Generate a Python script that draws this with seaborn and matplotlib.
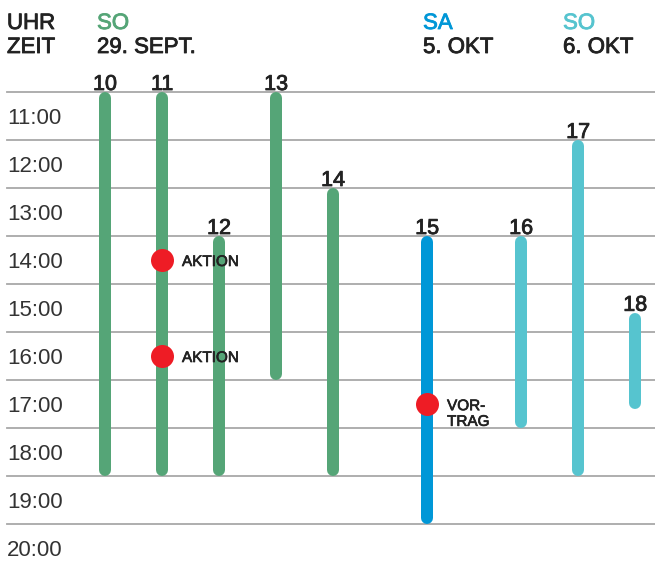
import seaborn as sns
import matplotlib.pyplot as plt
import matplotlib.patheffects as pe
import pandas as pd
import numpy as np

event_ids = [10, 11, 12, 13, 14, 15, 16, 17, 18]
event_days = ["SO 29.9."] * 5 + ["SA 5.10."] + ["SO 6.10."] * 3
start_hours = [10.5, 10.5, 13.5, 10.5, 12.5, 13.5, 13.5, 11.5, 15.1]
end_hours = [18.5, 18.5, 18.5, 16.5, 18.5, 19.5, 17.5, 18.5, 17.1]

# red markers: (event, hour, label)
marker_events = [11, 11, 15]
marker_hours = [14.0, 16.0, 17.0]
marker_labels = ["AKTION", "AKTION", "VOR-\nTRAG"]

hour_labels = ["11:00", "12:00", "13:00", "14:00", "15:00",
               "16:00", "17:00", "18:00", "19:00", "20:00"]
hour_values = [11, 12, 13, 14, 15, 16, 17, 18, 19, 20]

day_keys = ["SO 29.9.", "SA 5.10.", "SO 6.10."]
day_names = ["SO", "SA", "SO"]
day_dates = ["29. SEPT.", "5. OKT", "6. OKT"]
day_colors = ["#55A577", "#0097D7", "#56C4CF"]

# --- Layout ---
W, H = 655, 563
PX = 0.72                 # px -> pt at dpi 100
px_per_hour = 48
px_per_slot = 57
day_gap = 1.65
bar_px = 12
header_x_px = [97, 423, 563]

# x positions: one slot per event, wider gap between days
pos = []
x = 0.0
for i, d in enumerate(event_days):
    if i > 0:
        x += day_gap if d != event_days[i - 1] else 1.0
    pos.append(x)
pos_of = dict(zip(event_ids, pos))

# trim by cap radius so rounded ends stay inside the event time
cap = (bar_px / 2) / px_per_hour
rows = []
for e, d, p, s, t in zip(event_ids, event_days, pos, start_hours, end_hours):
    rows.append({"event": e, "day": d, "x": p, "hour": s + cap})
    rows.append({"event": e, "day": d, "x": p, "hour": t - cap})
bars = pd.DataFrame(rows)

marks = pd.DataFrame({
    "x": [pos_of[e] for e in marker_events],
    "hour": marker_hours,
    "label": marker_labels,
})

plt.rcParams["font.family"] = ["Liberation Sans", "DejaVu Sans"]

# slightly heavier strokes, like a medium-weight face
def medium(c, w=0.6):
    return [pe.withStroke(linewidth=w, foreground=c)]

fig = plt.figure(figsize=(W / 100, H / 100), dpi=100)
ax = fig.add_axes([0, 0, 1, 1])

# grid lines at half hours
for h in hour_values:
    ax.axhline(h - 0.5, xmin=7 / W, xmax=1, color="#a8a8a8", lw=1.3, zorder=0)

sns.lineplot(
    data=bars, x="x", y="hour", hue="day", units="event",
    estimator=None, sort=False, palette=dict(zip(day_keys, day_colors)),
    linewidth=bar_px * PX, solid_capstyle="round", legend=False, ax=ax, zorder=2,
)

sns.scatterplot(
    data=marks, x="x", y="hour", color="#EE1C25", s=(23 * PX) ** 2,
    linewidth=0, ax=ax, zorder=4,
)

for _, r in marks.iterrows():
    dy = -2 if "\n" not in r["label"] else -10
    ax.annotate(r["label"], (r["x"], r["hour"]), xytext=(20 * PX, dy * PX),
                textcoords="offset points", ha="left", va="center",
                fontsize=11, color="#222222", linespacing=1.15,
                path_effects=medium("#222222", 0.5))

# event numbers above bars
for e, p, s in zip(event_ids, pos, start_hours):
    ax.annotate(str(e), (p, s), xytext=(0, 2 * PX), textcoords="offset points",
                ha="center", va="baseline", fontsize=15.5, color="#222222",
                path_effects=medium("#222222"))

# hour labels
for h, lab in zip(hour_values, hour_labels):
    ax.annotate(lab, (7 / W, h), xycoords=("axes fraction", "data"),
                xytext=(0, -8 * PX), textcoords="offset points",
                ha="left", va="baseline", fontsize=16, color="#333333")

# header
def top_text(xpx, ypx, s, color):
    ax.text(xpx / W, 1 - ypx / H, s, transform=ax.transAxes, ha="left",
            va="baseline", fontsize=16, color=color,
            path_effects=medium(color))

top_text(7, 29, "UHR", "#222222")
top_text(7, 53, "ZEIT", "#222222")
for xp, n, d, c in zip(header_x_px, day_names, day_dates, day_colors):
    top_text(xp, 29, n, c)
    top_text(xp, 53, d, "#222222")

# scales: 11:00 sits at 116 px, bar "10" at 105 px
ax.set_ylim(11 + (H - 116) / px_per_hour, 11 - 116 / px_per_hour)
ax.set_xlim(-105 / px_per_slot, (W - 105) / px_per_slot)
ax.set_axis_off()

plt.savefig("out.png", dpi=100)
plt.close()
